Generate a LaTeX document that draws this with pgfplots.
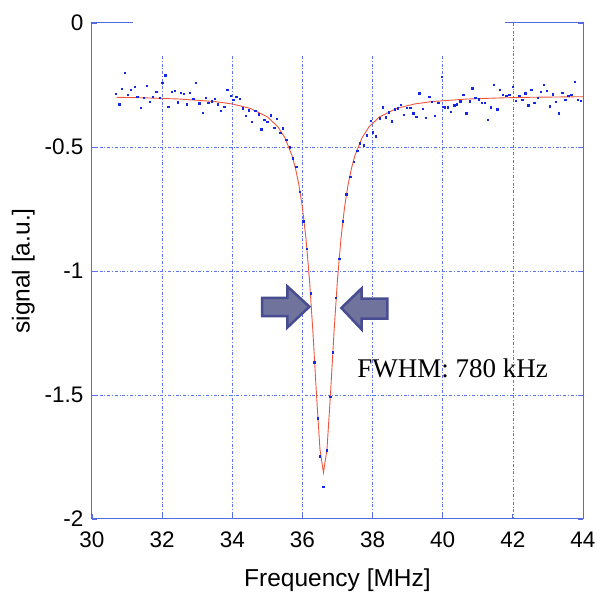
\documentclass[border=0pt]{standalone}
\usepackage{pgfplots}
\pgfplotsset{compat=1.18}
\usepackage{fontspec}
\setmainfont{Liberation Sans}
\newfontfamily\timesfont{Liberation Serif}
\definecolor{axblue}{RGB}{85,105,225}
\definecolor{gridblue}{RGB}{95,115,240}
\definecolor{ptblue}{RGB}{20,40,230}
\definecolor{fitred}{RGB}{238,85,60}
\definecolor{arrowfill}{RGB}{112,116,156}
\definecolor{arrowedge}{RGB}{72,76,145}

% measured points
\pgfplotstableread{
x y
30.676 -0.284
30.771 -0.328
30.848 -0.266
30.933 -0.200
31.019 -0.289
31.105 -0.270
31.219 -0.257
31.286 -0.297
31.381 -0.341
31.467 -0.301
31.562 -0.253
31.648 -0.317
31.733 -0.297
31.829 -0.278
31.924 -0.301
32.000 -0.241
32.086 -0.210
32.171 -0.337
32.267 -0.277
32.362 -0.273
32.448 -0.319
32.533 -0.281
32.619 -0.285
32.705 -0.328
32.790 -0.281
32.886 -0.306
32.962 -0.241
33.057 -0.324
33.162 -0.362
33.248 -0.302
33.314 -0.321
33.410 -0.316
33.505 -0.305
33.590 -0.327
33.676 -0.354
33.771 -0.337
33.857 -0.270
33.962 -0.292
34.030 -0.310
34.114 -0.298
34.210 -0.306
34.295 -0.344
34.390 -0.374
34.476 -0.351
34.562 -0.399
34.648 -0.354
34.752 -0.368
34.819 -0.429
34.914 -0.391
35.000 -0.398
35.095 -0.372
35.190 -0.422
35.267 -0.386
35.362 -0.442
35.438 -0.425
35.533 -0.470
35.629 -0.501
35.724 -0.546
35.820 -0.580
35.920 -0.680
36.020 -0.800
36.130 -0.910
36.237 -1.090
36.334 -1.367
36.429 -1.593
36.500 -1.746
36.590 -1.870
36.694 -1.722
36.791 -1.508
36.857 -1.327
36.951 -1.108
37.050 -0.950
37.150 -0.800
37.250 -0.690
37.360 -0.620
37.460 -0.560
37.563 -0.515
37.637 -0.485
37.751 -0.492
37.829 -0.452
37.943 -0.394
38.009 -0.441
38.094 -0.456
38.200 -0.384
38.286 -0.340
38.371 -0.380
38.457 -0.360
38.543 -0.396
38.637 -0.347
38.714 -0.344
38.800 -0.329
38.886 -0.370
38.980 -0.342
39.077 -0.342
39.163 -0.363
39.249 -0.378
39.334 -0.283
39.429 -0.346
39.514 -0.382
39.609 -0.298
39.686 -0.317
39.780 -0.374
39.866 -0.321
39.963 -0.217
40.009 -0.338
40.057 -0.340
40.143 -0.340
40.229 -0.358
40.323 -0.331
40.400 -0.327
40.494 -0.315
40.580 -0.290
40.666 -0.363
40.763 -0.315
40.837 -0.263
40.923 -0.301
41.020 -0.308
41.106 -0.321
41.200 -0.321
41.286 -0.391
41.363 -0.340
41.449 -0.250
41.551 -0.347
41.620 -0.270
41.714 -0.290
41.809 -0.293
41.894 -0.289
41.991 -0.257
42.086 -0.313
42.180 -0.294
42.266 -0.310
42.351 -0.283
42.437 -0.331
42.523 -0.270
42.609 -0.321
42.706 -0.301
42.791 -0.277
42.877 -0.250
42.963 -0.273
43.049 -0.335
43.143 -0.287
43.229 -0.317
43.314 -0.363
43.409 -0.282
43.494 -0.310
43.580 -0.294
43.666 -0.290
43.763 -0.237
43.849 -0.310
43.934 -0.313
}\points

% fitted curve
\pgfplotstableread{
x y
30.7 -0.2996
31.5 -0.3018
32.5 -0.3066
33.5 -0.3167
34.0 -0.3265
34.5 -0.3437
35.0 -0.3783
35.3 -0.4185
35.5 -0.4627
35.7 -0.5333
35.8 -0.5849
35.9 -0.6530
36.0 -0.7444
36.1 -0.8679
36.2 -1.0337
36.3 -1.2480
36.4 -1.4965
36.5 -1.7193
36.6 -1.8130
36.7 -1.7193
36.8 -1.4965
36.9 -1.2480
37.0 -1.0337
37.1 -0.8679
37.2 -0.7444
37.3 -0.6530
37.4 -0.5849
37.5 -0.5333
37.7 -0.4627
37.9 -0.4185
38.2 -0.3783
38.7 -0.3437
39.2 -0.3265
39.7 -0.3167
40.7 -0.3066
41.7 -0.3018
42.5 -0.2996
44.0 -0.2972
}\fit

\begin{document}
\begin{tikzpicture}
\useasboundingbox (-92pt,-74pt) rectangle (506pt,519pt);
\begin{axis}[
  at={(0,0)}, anchor=south west,
  scale only axis, width=491pt, height=496pt,
  xmin=30, xmax=44, ymin=-2, ymax=0,
  xtick={30,32,...,44},
  ytick={-2,-1.5,-1,-0.5,0},
  yticklabels={-2,-1.5,-1,-0.5,0},
  axis line style={draw=none},
  xtick pos=bottom, ytick pos=both,
  tick align=inside, major tick length=5pt,
  tick style={axblue, line width=0.8pt},
  ticklabel style={font=\fontsize{22.5}{22.5}\selectfont},
  xticklabel style={yshift=-9pt},
  yticklabel style={xshift=-5pt},
  /pgf/number format/assume math mode=true,
  xlabel={Frequency [MHz]},
  ylabel={signal [a.u.]},
  label style={font=\fontsize{24.5}{25}\selectfont},
  xlabel style={at={(axis description cs:0.5,-0.123)}, anchor=center},
  ylabel style={at={(axis description cs:-0.14,0.5)}, anchor=center},
  clip=false,
]
\tikzset{gridstyle/.style={gridblue, line width=0.7pt, dash pattern=on 3pt off 1.8pt on 1pt off 1.8pt}}
\pgfplotsinvokeforeach{32,34,36,38,40}{\draw[gridstyle] (axis cs:#1,-0.133) -- (axis cs:#1,-2);}
\draw[gridstyle] (axis cs:42,0) -- (axis cs:42,-2);
\pgfplotsinvokeforeach{-0.5,-1,-1.5}{\draw[gridstyle] (axis cs:30,#1) -- (axis cs:44,#1);}
\draw[axblue, line width=1pt] (axis cs:31.16,0) -- (axis cs:30,0) -- (axis cs:30,-2) -- (axis cs:44,-2) -- (axis cs:44,0) -- (axis cs:41.77,0);

\addplot[fitred, line width=0.9pt] table {\fit};
\addplot[only marks, mark=square*, mark size=0.7pt, ptblue, mark options={draw=none, fill=ptblue}] table {\points};

\draw[fill=arrowfill, draw=arrowedge, line width=2.5pt, line join=miter]
  (axis cs:34.85,-1.108) -- (axis cs:35.57,-1.108) -- (axis cs:35.57,-1.062) -- (axis cs:36.20,-1.144)
  -- (axis cs:35.57,-1.228) -- (axis cs:35.57,-1.182) -- (axis cs:34.85,-1.182) -- cycle;
\draw[fill=arrowfill, draw=arrowedge, line width=2.5pt, line join=miter]
  (axis cs:38.42,-1.111) -- (axis cs:37.69,-1.111) -- (axis cs:37.69,-1.070) -- (axis cs:37.11,-1.149)
  -- (axis cs:37.69,-1.236) -- (axis cs:37.69,-1.192) -- (axis cs:38.42,-1.192) -- cycle;
\node[anchor=west, inner sep=0pt, font=\timesfont\fontsize{27}{27}\selectfont] at (axis cs:37.563,-1.391) {FWHM: 780 kHz};
\end{axis}
\end{tikzpicture}
\end{document}
